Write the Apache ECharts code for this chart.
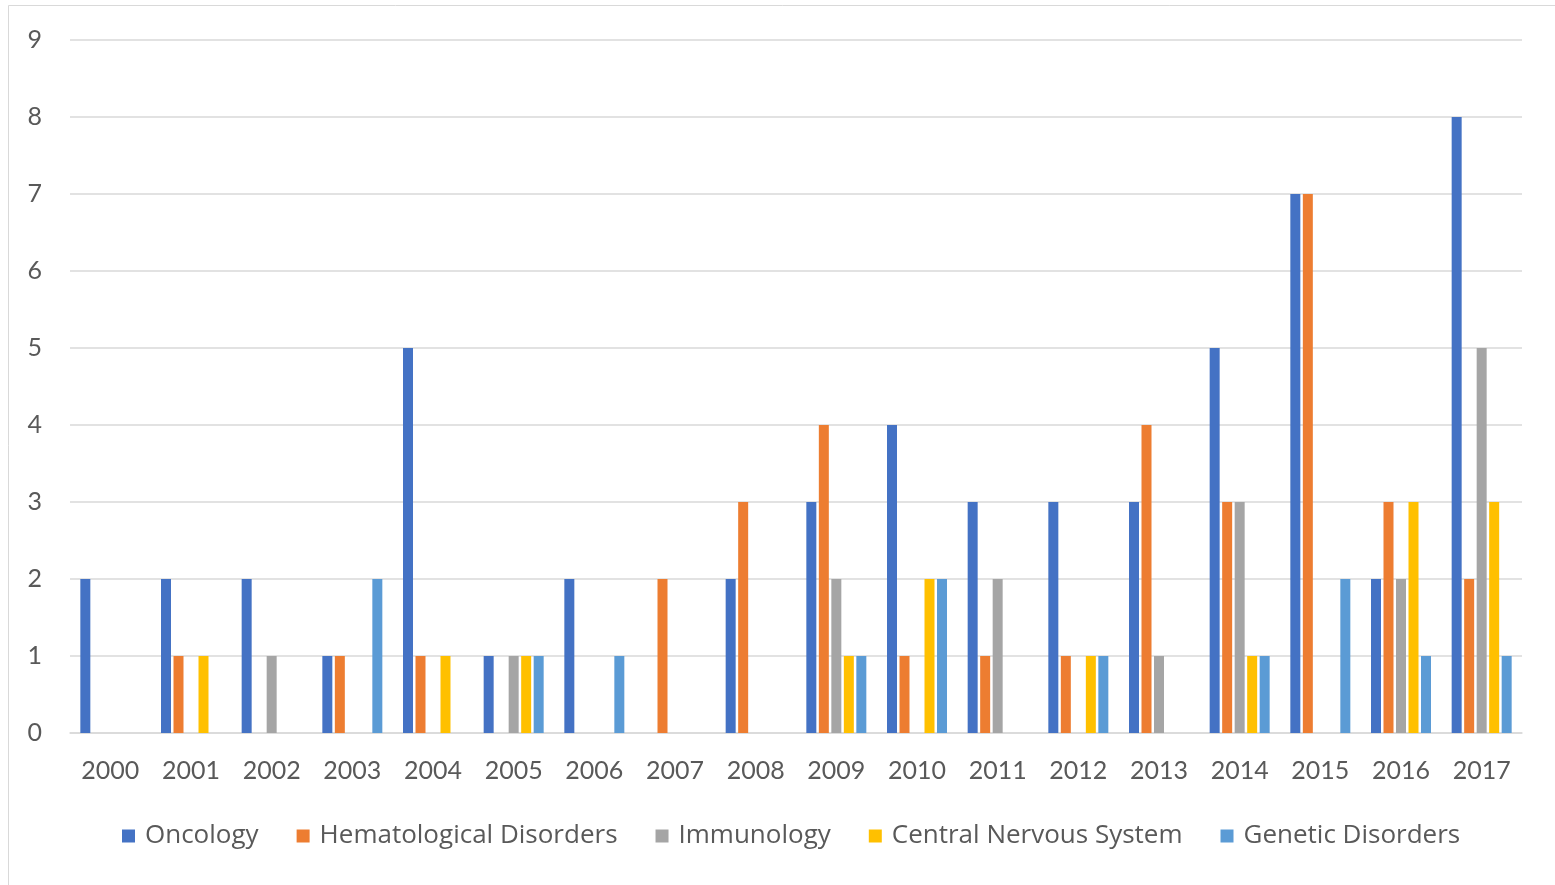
<!DOCTYPE html>
<html>
<head>
<meta charset="utf-8">
<script src="https://cdn.jsdelivr.net/npm/echarts@6/dist/echarts.min.js"></script>
<style>
html,body{margin:0;padding:0;background:#fff;}
#chart{width:1555px;height:885px;}
</style>
</head>
<body>
<div id="chart"></div>
<script>
const years = ['2000','2001','2002','2003','2004','2005','2006','2007','2008','2009','2010','2011','2012','2013','2014','2015','2016','2017'];
const oncology      = [2,2,2,1,5,1,2,0,2,3,4,3,3,3,5,7,2,8];
const hematological = [0,1,0,1,1,0,0,2,3,4,1,1,1,4,3,7,3,2];
const immunology    = [0,0,1,0,0,1,0,0,0,2,0,2,0,1,3,0,2,5];
const cns           = [0,1,0,0,1,1,0,0,0,1,2,0,1,0,1,0,3,3];
const genetic       = [0,0,0,2,0,1,1,0,0,1,2,0,1,0,1,2,1,1];
const seriesNames = ['Oncology','Hematological Disorders','Immunology','Central Nervous System','Genetic Disorders'];
const colors = ['#4472C4','#ED7D31','#A5A5A5','#FFC000','#5B9BD5'];
const yTicks = [0,1,2,3,4,5,6,7,8,9];

const font = 'Lato, "Open Sans", sans-serif';
const legendFont = '"Open Sans", Lato, sans-serif';
const chart = echarts.init(document.getElementById('chart'));
const dataSets = [oncology, hematological, immunology, cns, genetic];
chart.setOption({
  animation: false,
  backgroundColor: '#ffffff',
  color: colors,
  graphic: [{
    type: 'rect', silent: true, z: -1,
    shape: {x: 8.5, y: 5.5, width: 1600, height: 900},
    style: {fill: 'none', stroke: '#d9d9d9', lineWidth: 1}
  }],
  grid: {left: 70, right: 33, top: 40, bottom: 152, containLabel: false},
  legend: {
    data: seriesNames,
    left: 117, top: 818,
    itemWidth: 13, itemHeight: 13, itemGap: 38,
    icon: 'rect',
    textStyle: {fontFamily: legendFont, fontSize: 26, color: '#595959', padding: [0,0,0,5]}
  },
  xAxis: {
    type: 'category',
    data: years,
    axisLine: {show: true, lineStyle: {color: '#d9d9d9', width: 1.5}},
    axisTick: {show: false},
    axisLabel: {fontFamily: font, fontSize: 25, color: '#595959', margin: 25}
  },
  yAxis: {
    type: 'value',
    min: yTicks[0], max: yTicks[yTicks.length-1], interval: 1,
    axisLine: {show: false},
    axisTick: {show: false},
    splitLine: {lineStyle: {color: '#d9d9d9', width: 1.5}},
    axisLabel: {fontFamily: font, fontSize: 25, color: '#595959', margin: 28}
  },
  series: seriesNames.map((n, i) => ({
    name: n,
    type: 'bar',
    data: dataSets[i],
    barWidth: 10,
    barGap: '25%',
    itemStyle: {color: colors[i]}
  }))
});
</script>
</body>
</html>
